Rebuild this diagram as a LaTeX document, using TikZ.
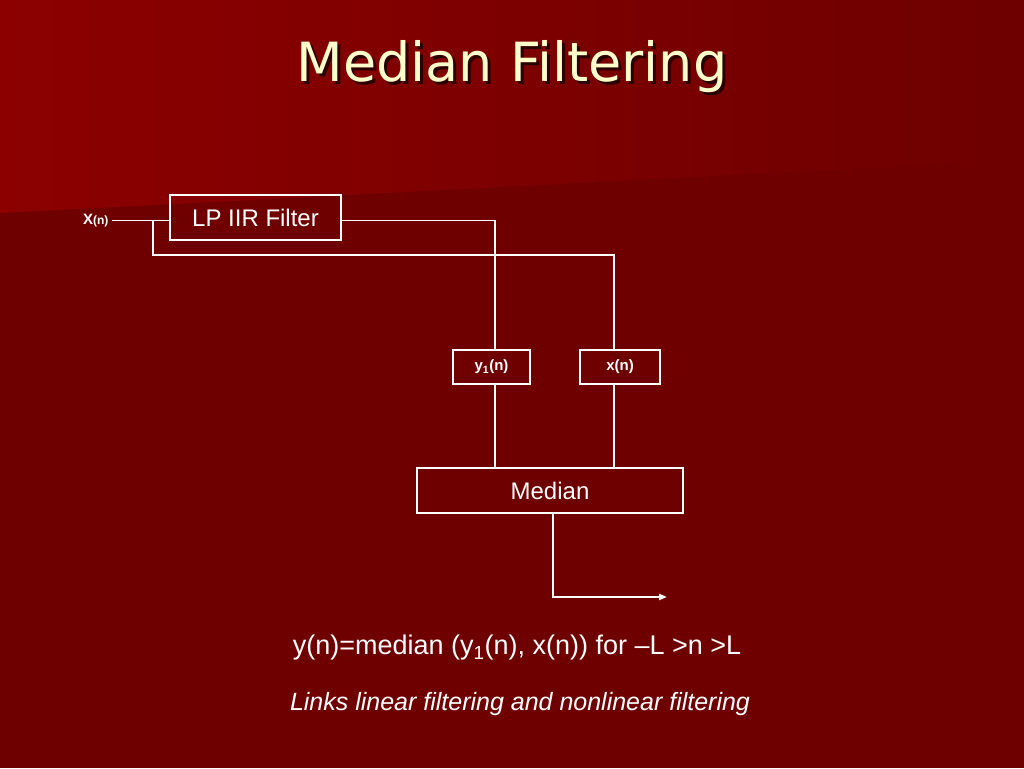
\documentclass[tikz,border=0pt]{standalone}
\usepackage{fontspec}
\setmainfont{Liberation Sans}
\newfontfamily\titlefont{DejaVu Sans}
\usetikzlibrary{arrows.meta}
\definecolor{bgdark}{HTML}{6E0000}
\definecolor{bglight}{HTML}{8C0000}
\definecolor{ttl}{HTML}{FFFFCC}
\definecolor{shd}{HTML}{2A0000}
\begin{document}
\begin{tikzpicture}[x=1pt,y=-1pt,
  blk/.style={draw=white,line width=2.5pt,text=white,inner sep=0pt,font=\fontsize{24}{28}\selectfont},
  sblk/.style={draw=white,line width=2.5pt,text=white,inner sep=0pt,font=\bfseries\fontsize{15}{17}\selectfont},
  thin/.style={draw=white,line width=1pt},
  thick/.style={draw=white,line width=2.5pt}]
\useasboundingbox (0,0) rectangle (1024,768);
\fill[bgdark] (0,0) rectangle (1024,768);
\shade[left color=bglight,right color=bgdark] (0,0) -- (1024,0) -- (1024,160) -- (0,213) -- cycle;
\node (title) [text=ttl,font=\titlefont\fontsize{54}{62}\selectfont] at (512,68)
  {\makebox[0pt][l]{\hspace{3pt}\raisebox{-3pt}{\textcolor{shd}{Median Filtering}}}Median Filtering};
\node (xin) [text=white,font=\bfseries\fontsize{15}{17}\selectfont,anchor=east] at (112,221) {X\fontsize{12}{14}\selectfont(n)};
\node (lp) [blk,minimum width=171pt,minimum height=45pt] at (255.5,217.5) {LP IIR Filter};
\node (y1) [sblk,minimum width=77pt,minimum height=34pt] at (491.5,367) {y\textsubscript{1}(n)};
\node (xn) [sblk,minimum width=80pt,minimum height=34pt] at (620,367) {x(n)};
\node (med) [blk,minimum width=266pt,minimum height=45pt] at (550,490.5) {Median};
\coordinate (sp) at (153,220);
\coordinate (out) at (667,597);
\draw[thin] (xin.east |- sp) -- (lp.west |- sp);
\draw[thin] (lp.east |- sp) -- (495,220);
\draw[thick] (495,220) -- (y1.north -| 495,0);
\draw[thick] (sp) -- (153,255) -- (614,255) -- (xn.north -| 614,0);
\draw[thick] (y1.south -| 495,0) -- (med.north -| 495,0);
\draw[thick] (xn.south -| 614,0) -- (med.north -| 614,0);
\draw[thick,-{Triangle[length=8pt,width=6pt]}] (med.south -| 553,0) -- (553,597) -- (out);
\node (eq) [text=white,font=\fontsize{27}{32}\selectfont] at (517,648) {y(n)=median (y\textsubscript{1}(n), x(n)) for –L >n >L};
\node (note) [text=white,font=\itshape\fontsize{25}{30}\selectfont] at (520,704) {Links linear filtering and nonlinear filtering};
\end{tikzpicture}
\end{document}
